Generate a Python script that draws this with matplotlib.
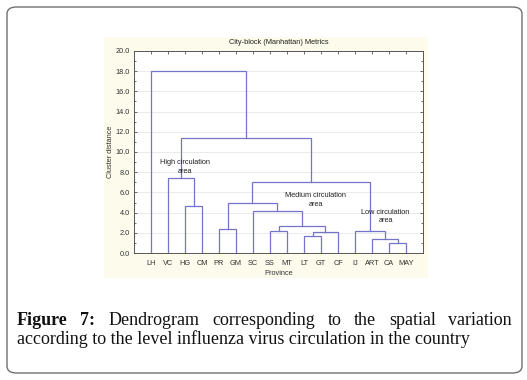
import matplotlib
matplotlib.use("Agg")
import matplotlib.pyplot as plt
from matplotlib.patches import FancyBboxPatch, Rectangle

plt.rcParams["font.family"] = ["Liberation Sans", "DejaVu Sans"]

# leaves in plotted order
leaves = ["LH", "VC", "HG", "CM", "PR", "GM", "SC", "SS", "MT",
          "LT", "GT", "CF", "IJ", "ART", "CA", "MAY"]

# merges: children are leaf names or indices of earlier merges
merge_left = ["HG", "VC", "PR", "SS", "LT", 4, 3, "SC", 2, "CA", "ART", "IJ", 8, 1, "LH"]
merge_right = ["CM", 0, "GM", "MT", "GT", "CF", 5, 6, 7, "MAY", 9, 10, 11, 12, 13]
merge_height = [4.7, 7.4, 2.35, 2.2, 1.7, 2.1, 2.7, 4.2, 4.95, 1.0, 1.42, 2.15, 7.07, 11.35, 18.05]

yticks = [0, 2, 4, 6, 8, 10, 12, 14, 16, 18, 20]

caption_line1 = ["Dendrogram", "corresponding", "to", "the", "spatial", "variation"]
caption_line2 = "according to the level influenza virus circulation in the country"

line_col = "#7474c8"
axis_col = "#555555"

fig = plt.figure(figsize=(5.27, 3.80), dpi=100)
W, H = 527, 380

# outer rounded frame
frame = FancyBboxPatch((7 / W, 7 / H), 515 / W, 366 / H,
                       boxstyle="round,pad=0,rounding_size=0.018",
                       transform=fig.transFigure, fill=False,
                       edgecolor="#707070", linewidth=1.0)
fig.patches.append(frame)

# pale chart background
fig.patches.append(Rectangle((104 / W, 1 - 278 / H), 324 / W, 241 / H,
                             transform=fig.transFigure, facecolor="#fdfbec",
                             edgecolor="none", zorder=-1))

ax = fig.add_axes([134 / W, 1 - 253 / H, 289 / W, 202 / H])
ax.set_facecolor("white")

# dendrogram
def node_pos(child, centers, tops):
    if isinstance(child, str):
        return leaves.index(child) + 1, 0.0
    return centers[child], tops[child]

centers, tops = [], []
for l, r, h in zip(merge_left, merge_right, merge_height):
    xl, hl = node_pos(l, centers, tops)
    xr, hr = node_pos(r, centers, tops)
    ax.plot([xl, xl, xr, xr], [hl, h, h, hr], color=line_col, lw=0.9,
            solid_joinstyle="miter", zorder=3)
    centers.append((xl + xr) / 2)
    tops.append(h)

ax.set_xlim(0, len(leaves) + 1)
ax.set_ylim(0, 20)
ax.set_xticks(range(1, len(leaves) + 1))
ax.set_xticklabels(leaves)
ax.set_yticks(yticks)
ax.set_yticklabels([f"{v:.1f}" for v in yticks])
ax.set_yticks(range(0, 21), minor=True)
ax.grid(axis="y", color="#e8e8e8", lw=0.6, zorder=0)
ax.tick_params(axis="both", labelsize=5.3, colors="#333333", direction="in",
               length=2.5, width=0.5, pad=3, top=True, right=True)
ax.tick_params(axis="x", bottom=False, pad=5)
ax.tick_params(which="minor", direction="in", length=1.5, width=0.4,
               right=True, left=True)
for s in ax.spines.values():
    s.set_color(axis_col)
    s.set_linewidth(0.7)

ax.set_title("City-block (Manhattan) Metrics", fontsize=5.3, color="#222222", pad=5)
ax.set_ylabel("Cluster distance", fontsize=5.3, color="#333333", labelpad=1)
ax.set_xlabel("Province", fontsize=5.3, color="#333333", labelpad=2)

ax.text(3.0, 8.5, "High circulation\narea", fontsize=5.3, ha="center", va="center",
        color="#222222", linespacing=1.3, zorder=4)
ax.text(10.7, 5.25, "Medium circulation\narea", fontsize=5.3, ha="center", va="center",
        color="#222222", linespacing=1.3, zorder=4)
ax.text(14.8, 3.6, "Low circulation\narea", fontsize=5.3, ha="center", va="center",
        color="#222222", linespacing=1.3, zorder=4)

# caption, first line justified
cap_font = "Liberation Serif"
cap_size = 13
x_left, x_right = 17 / W, 512 / W
y1, y2 = 1 - 325 / H, 1 - 344 / H
renderer = fig.canvas.get_renderer()
items = [(w, "bold") for w in ["Figure", "7:"]] + [(w, "normal") for w in caption_line1]
texts = [fig.text(0, y1, w, fontsize=cap_size, family=cap_font, weight=wt,
                  color="#111111") for w, wt in items]
widths = [t.get_window_extent(renderer).width / (W) for t in texts]
gap = (x_right - x_left - sum(widths)) / (len(texts) - 1)
x = x_left
for t, wd in zip(texts, widths):
    t.set_x(x)
    x += wd + gap
fig.text(x_left, y2, caption_line2, fontsize=cap_size, family=cap_font, color="#111111")

fig.savefig("out.png", dpi=100)
